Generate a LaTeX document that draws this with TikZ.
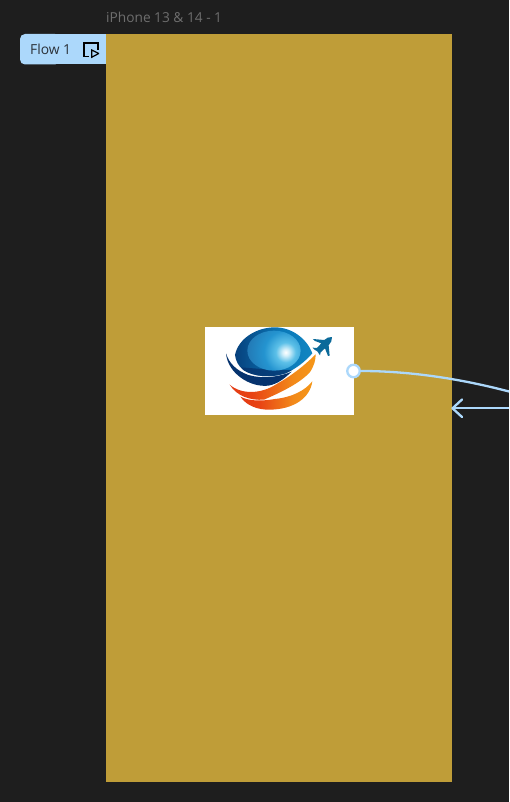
\documentclass[tikz,border=0pt]{standalone}
\usepackage{fontspec}
\setmainfont{Open Sans}
\usetikzlibrary{arrows.meta}
\definecolor{bgdark}{HTML}{1E1E1E}
\definecolor{frameg}{HTML}{BF9D38}
\definecolor{flowb}{HTML}{ACD8FB}
\definecolor{flowt}{HTML}{2B3138}
\definecolor{titleg}{HTML}{6E6E6E}
\definecolor{navy}{HTML}{06336E}
\definecolor{midb}{HTML}{0A78B8}
\definecolor{brightb}{HTML}{1A9AD0}
\definecolor{planeb}{HTML}{0B6A9A}
\definecolor{lensa}{HTML}{D4F0FA}
\definecolor{lensb}{HTML}{5CC0E8}
\definecolor{lensc}{HTML}{2494D0}
\definecolor{lensd}{HTML}{2272AE}
\definecolor{lense}{HTML}{174F8C}
\definecolor{swa}{HTML}{DB2A10}
\definecolor{swb}{HTML}{E84314}
\definecolor{swc}{HTML}{F28A1A}
\definecolor{swd}{HTML}{FCB014}
\pgfdeclareradialshading{globelens}{\pgfpointorigin}{
  color(0bp)=(white);
  color(2bp)=(lensa);
  color(6bp)=(lensb);
  color(13bp)=(lensc);
  color(26bp)=(lensd);
  color(50bp)=(lense)
}
\pgfdeclarehorizontalshading{globecap}{100bp}{
  color(0bp)=(navy);
  color(20bp)=(navy);
  color(55bp)=(midb);
  color(100bp)=(brightb)
}
\pgfdeclarehorizontalshading{swoosh}{100bp}{
  color(0bp)=(swa);
  color(38bp)=(swb);
  color(62bp)=(swc);
  color(100bp)=(swd)
}
\tikzset{
  flowline/.style={draw=flowb,line width=2.3pt},
  handle/.style={circle,draw=flowb,fill=white,line width=2.3pt,minimum size=12.5pt,inner sep=0pt},
  iconline/.style={draw=black,line width=1.2pt,miter limit=2},
}
\begin{document}
\begin{tikzpicture}[x=1pt,y=-1pt]
\useasboundingbox (0,0) rectangle (509,802);
\fill[bgdark] (0,0) rectangle (509,802);
% tag
\fill[flowb,rounded corners=5pt] (60,34) -- (20,34) -- (20,64.5) -- (60,64.5) -- cycle;
\fill[flowb] (50,34) rectangle (106,64.5);
\fill[frameg] (106,34) rectangle (452,782);
\node[anchor=west,inner sep=0pt,text=titleg,font=\fontsize{13.7}{16}\selectfont] (title) at (106,17) {iPhone 13 \& 14 - 1};
\node[anchor=west,inner sep=0pt,text=flowt,font=\fontsize{13.8}{16}\selectfont] (flowlabel) at (30,49.5) {Flow 1};
% icon
\draw[iconline] (88.5,56.8) -- (84,56.8) -- (84,43) -- (98,43) -- (98,50);
\draw[iconline] (91.8,50) -- (98.8,53.5) -- (91.8,57.2) -- cycle;
% logo panel
\fill[white] (204.5,327) rectangle (353.5,415);
\begin{scope}[shift={(195,320)},x=0.3333pt,y=-0.3333pt]
  % globe
  \begin{scope}
    \clip (120,105) .. controls (130,55) and (185,22) .. (240,22)
     .. controls (290,22) and (335,55) .. (352,100)
     .. controls (330,125) and (305,145) .. (272,160)
     .. controls (225,175) and (175,170) .. (145,150)
     .. controls (130,138) and (122,122) .. (120,105) -- cycle;
    \shade[shading=globecap] (110,20) rectangle (360,175);
    \fill[navy,opacity=0.8] (110,140) -- (240,150) -- (300,150) -- (270,175) -- (110,175) -- cycle;
    \begin{scope}
      \clip (237,92) ellipse[x radius=80,y radius=60];
      \shade[shading=globelens] (272,97) circle[radius=125];
    \end{scope}
  \end{scope}
  % navy crescent
  \fill[navy] (93,100) .. controls (98,160) and (165,203) .. (220,197)
     .. controls (250,192) and (272,172) .. (290,155)
     .. controls (255,170) and (205,178) .. (160,165)
     .. controls (125,152) and (102,130) .. (93,100) -- cycle;
  % orange swoosh
  \shade[shading=swoosh] (362,103)
     .. controls (325,140) and (285,170) .. (245,192)
     .. controls (200,222) and (140,225) .. (104,194)
     .. controls (125,228) and (165,242) .. (207,239)
     .. controls (270,212) and (320,185) .. (346,155)
     .. controls (358,135) and (362,120) .. (362,103) -- cycle;
  % lower lobe
  \shade[shading=swoosh] (352,184)
     .. controls (330,212) and (290,232) .. (240,237)
     .. controls (205,243) and (165,245) .. (136,230)
     .. controls (155,258) and (190,270) .. (225,269)
     .. controls (295,268) and (345,235) .. (352,184) -- cycle;
  % plane
  \fill[planeb] (411,51) .. controls (402,50) and (394,54) .. (388,60)
     -- (354,57) -- (360,63) -- (379,70) -- (366,84) -- (353,83) -- (360,90) -- (367,94)
     -- (375,106) -- (377,97) -- (390,85) -- (399,108) -- (404,107) -- (401,76)
     .. controls (408,68) and (412,60) .. (411,51) -- cycle;
\end{scope}
% connectors
\node[handle] (start) at (353.5,371) {};
\coordinate (outa) at (509,391.5);
\coordinate (outb) at (509,408.3);
\coordinate (tip) at (452.5,408.3);
\draw[flowline] (start.east) .. controls (400,371) and (450,376) .. (outa);
\draw[flowline] (outb) -- (tip);
\draw[flowline,line cap=round,line join=round] (462,399.5) -- (tip) -- (462,417);
\end{tikzpicture}
\end{document}
